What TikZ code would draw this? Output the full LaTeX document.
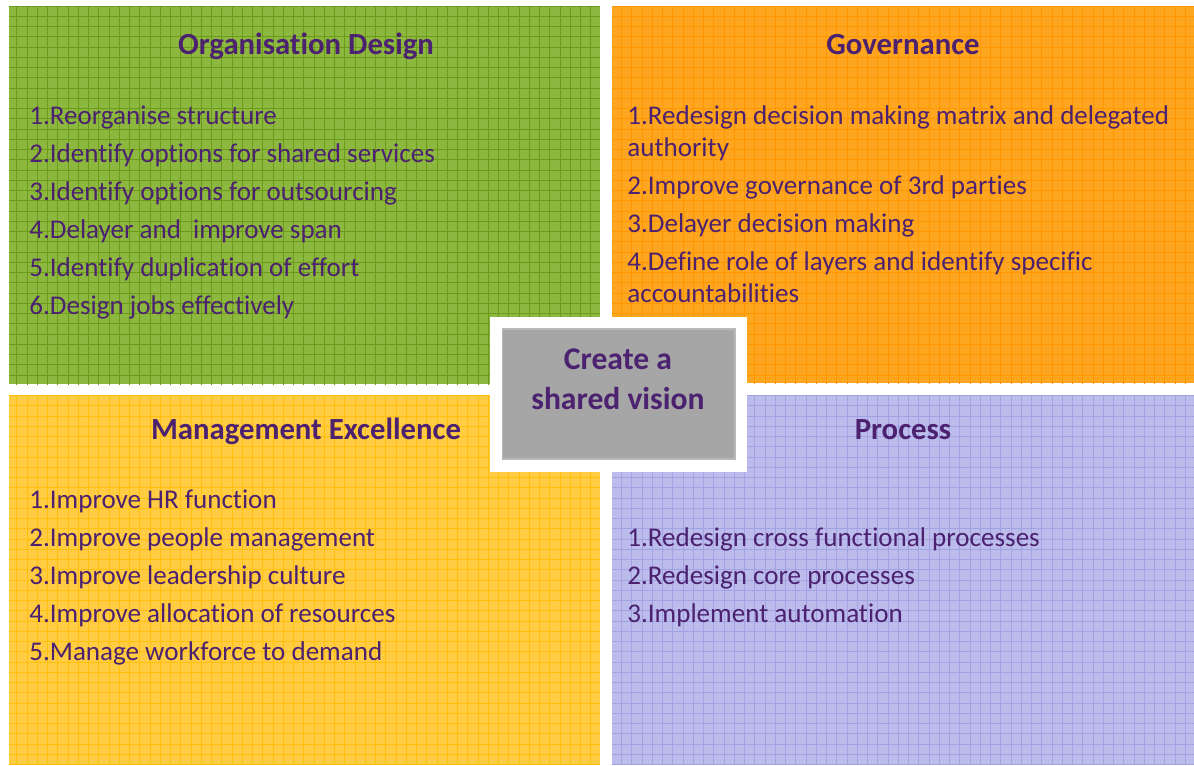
\documentclass[tikz,border=0pt]{standalone}
\usepackage{fontspec}
\setmainfont{Carlito}[Ligatures=CommonOff]
\usetikzlibrary{positioning}

\definecolor{ink}{HTML}{4B2170}
\definecolor{orgfill}{HTML}{8DB840}
\definecolor{orgline}{HTML}{6B9B18}
\definecolor{govfill}{HTML}{FFA620}
\definecolor{govline}{HTML}{FF9800}
\definecolor{mgmtfill}{HTML}{FFCC44}
\definecolor{mgmtline}{HTML}{FFBF0A}
\definecolor{procfill}{HTML}{BCBCEC}
\definecolor{procline}{HTML}{A2A2E2}
\definecolor{visionfill}{HTML}{A6A6A6}

\begin{document}
\begin{tikzpicture}[x=0.02cm, y=-0.02cm,
    panel/.style={rectangle, inner sep=0pt, outer sep=0pt},
    heading/.style={font=\fontsize{17.5}{21}\selectfont\bfseries, text=ink, anchor=base, inner sep=0pt},
    item/.style={font=\fontsize{15.4}{18.5}\selectfont, text=ink, anchor=base west, inner sep=0pt},
    gridline/.style={line width=0.5pt}
]

\useasboundingbox[fill=white] (0,0) rectangle (1194,765);

% Four panels with their squared paper texture
\foreach \name/\x/\y/\w/\h/\c in {orgdesign/9/6/591/378/org, governance/612/6/582/377/gov,
                                  mgmtexc/9/395/591/370/mgmt, process/612/395/582/370/proc} {
    \node[panel, fill=\c fill, minimum width=\w*0.02cm, minimum height=\h*0.02cm] (\name) at ({\x+\w/2},{\y+\h/2}) {};
    \begin{scope}
        \clip (\name.north west) rectangle (\name.south east);
        \foreach \k in {0,...,117}
            \draw[\c line, gridline] (6.5+\k*10.25,0) -- ++(0,765);
        \foreach \k in {0,...,75}
            \draw[\c line, gridline] (0,6+\k*10.25) -- ++(1194,0);
    \end{scope}
}

% Headings
\node[heading] (orgtitle) at (306,54) {Organisation Design};
\node[heading] (govtitle) at (903,54) {Governance};
\node[heading] (mgmttitle) at (306,439) {Management Excellence};
\node[heading] (proctitle) at (903,439) {Process};

% Organisation design items
\foreach \t/\y [count=\i] in {1.Reorganise structure/124, 2.Identify options for shared services/162,
    3.Identify options for outsourcing/200, 4.Delayer and~ improve span/238,
    5.Identify duplication of effort/276, 6.Design jobs effectively/314}
    \node[item] (org-\i) at (29,\y) {\t};

% Governance items (long ones wrap onto a second line)
\foreach \t/\y [count=\i] in {1.Redesign decision making matrix and delegated/124, authority/156,
    2.Improve governance of 3rd parties/194, 3.Delayer decision making/232,
    4.Define role of layers and identify specific/270, accountabilities/302}
    \node[item] (gov-\i) at (627,\y) {\t};

% Management excellence items
\foreach \t/\y [count=\i] in {1.Improve HR function/508, 2.Improve people management/546,
    3.Improve leadership culture/584, 4.Improve allocation of resources/622,
    5.Manage workforce to demand/660}
    \node[item] (mgmt-\i) at (29,\y) {\t};

% Process items
\foreach \t/\y [count=\i] in {1.Redesign cross functional processes/546,
    2.Redesign core processes/584, 3.Implement automation/622}
    \node[item] (proc-\i) at (627,\y) {\t};

% Centre box
\node[panel, fill=white, minimum width=5.14cm, minimum height=3.1cm] (visionframe) at (618.5,394.5) {};
\node[panel, fill=visionfill, draw=gray!55, line width=0.6pt, minimum width=4.66cm, minimum height=2.6cm] (vision) at (618.5,394) {};
\node[font=\fontsize{18}{22.7}\selectfont\bfseries, text=ink, align=center, inner sep=0pt] (visiontext) at (618,379) {Create a\\shared vision};

\end{tikzpicture}
\end{document}
